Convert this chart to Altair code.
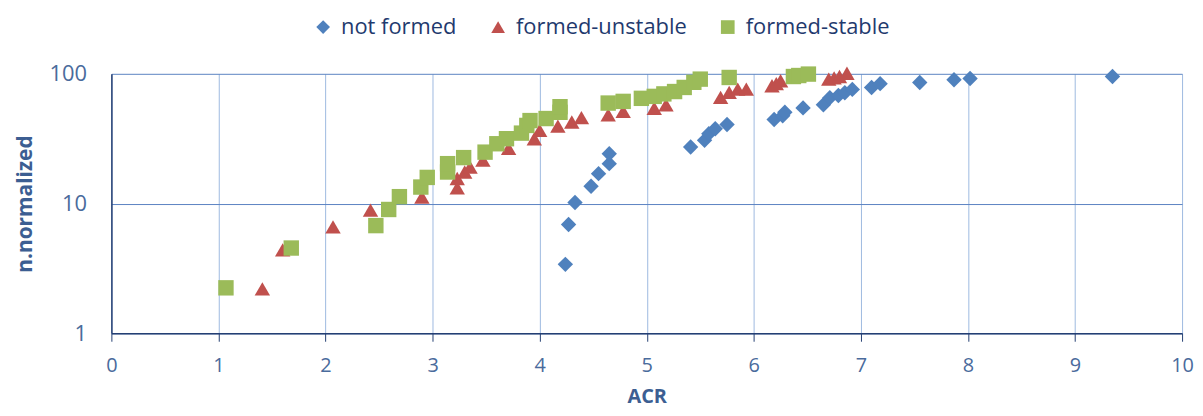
import altair as alt
import pandas as pd

series_names = ["not formed", "formed-unstable", "formed-stable"]

nf_x = [4.24, 4.27, 4.33, 4.48, 4.55, 4.65, 4.65, 5.41, 5.54, 5.58, 5.64, 5.75,
        6.19, 6.27, 6.29, 6.46, 6.65, 6.71, 6.79, 6.85, 6.92, 7.10, 7.18, 7.55,
        7.87, 8.02, 9.35]
nf_y = [3.4, 6.9, 10.2, 13.6, 17.0, 20.3, 24.2, 27.3, 30.7, 34.5, 37.7, 40.7,
        44.4, 47.5, 50.5, 54.6, 57.7, 65.4, 68.0, 71.5, 75.8, 78.5, 84.0, 85.8,
        90.0, 92.0, 95.3]

fu_x = [1.41, 1.60, 2.07, 2.42, 2.90, 3.23, 3.23, 3.30, 3.35, 3.47, 3.71, 3.95,
        4.00, 4.17, 4.30, 4.39, 4.64, 4.78, 5.07, 5.18, 5.69, 5.77, 5.85, 5.93,
        6.17, 6.21, 6.25, 6.70, 6.75, 6.80, 6.87]
fu_y = [2.2, 4.4, 6.6, 8.9, 11.2, 13.2, 15.6, 17.5, 19.1, 21.6, 26.6, 31.6,
        36.6, 39.5, 42.5, 46.0, 48.2, 51.3, 54.3, 57.6, 65.8, 71.9, 76.3, 76.3,
        80.9, 84.0, 88.4, 91.0, 93.0, 95.3, 101.0]

fs_x = [1.07, 1.68, 2.47, 2.59, 2.69, 2.89, 2.95, 3.14, 3.14, 3.29, 3.49, 3.60,
        3.69, 3.83, 3.88, 3.91, 4.06, 4.19, 4.19, 4.64, 4.78, 4.95, 5.07, 5.16,
        5.26, 5.35, 5.44, 5.50, 5.77, 6.37, 6.42, 6.51]
fs_y = [2.24, 4.54, 6.76, 9.0, 11.3, 13.4, 15.9, 17.5, 20.3, 22.6, 24.9, 28.9,
        31.6, 34.9, 40.0, 43.6, 45.2, 50.5, 55.8, 59.5, 61.3, 64.7, 67.0, 70.0,
        73.0, 78.5, 86.0, 91.0, 93.7, 95.3, 97.0, 99.5]

x_ticks = list(range(0, 11))
y_ticks = [1, 10, 100]

rows = []
for name, xs, ys in zip(series_names, [nf_x, fu_x, fs_x], [nf_y, fu_y, fs_y]):
    for a, b in zip(xs, ys):
        rows.append({"series": name, "ACR": a, "n": b})
df = pd.DataFrame(rows)
df["order"] = range(len(df))

colors = ["#4F81BD", "#C0504D", "#9BBB59"]
shapes = ["diamond", "triangle-up", "square"]

FONT = "Open Sans"
LABEL_COLOR = "#4A6B9C"
TITLE_COLOR = "#3C5E92"

chart = alt.Chart(df).mark_point(filled=True, opacity=1, size=240, strokeWidth=0).encode(
    x=alt.X("ACR:Q",
            scale=alt.Scale(domain=[0, 10], nice=False, zero=False),
            axis=alt.Axis(values=x_ticks, title="ACR", grid=True, gridColor="#9DB9E0",
                          gridWidth=1, domainColor="#243F73", domainWidth=1.5,
                          tickColor="#243F73", tickSize=8, labelPadding=14,
                          labelFlush=False,
                          labelFontSize=20, labelColor=LABEL_COLOR, labelFont=FONT,
                          titleFont=FONT, titleFontSize=20, titleFontWeight="bold",
                          titleColor=TITLE_COLOR, titlePadding=12)),
    y=alt.Y("n:Q",
            scale=alt.Scale(type="log", domain=[1, 100], nice=False),
            axis=alt.Axis(values=y_ticks, title="n.normalized", grid=True,
                          gridColor="#5B83C2", gridWidth=1, domainColor="#243F73",
                          domainWidth=1.5, ticks=False, labelPadding=25,
                          labelFontSize=22, labelColor=LABEL_COLOR, labelFont=FONT,
                          format="d", labelFlush=False,
                          titleFont=FONT, titleFontSize=21, titleFontWeight="bold",
                          titleColor=TITLE_COLOR, titlePadding=14)),
    color=alt.Color("series:N",
                    scale=alt.Scale(domain=series_names, range=colors),
                    legend=alt.Legend(title=None, orient="none", direction="horizontal",
                                      legendX=202, legendY=-58, labelFont=FONT,
                                      labelFontSize=22, labelColor="#1F3A6E",
                                      labelLimit=0,
                                      symbolSize=190, symbolStrokeWidth=0,
                                      columnPadding=30, labelOffset=7)),
    shape=alt.Shape("series:N",
                    scale=alt.Scale(domain=series_names, range=shapes),
                    legend=None),
    order=alt.Order("order:Q"),
).properties(
    width=1077, height=261,
    autosize=alt.AutoSizeParams(type="none"),
    padding={"left": 104, "top": 65, "right": 13, "bottom": 80},
).configure_view(stroke=None)

chart.save("out.html", embed_options={"renderer": "svg", "actions": False})
